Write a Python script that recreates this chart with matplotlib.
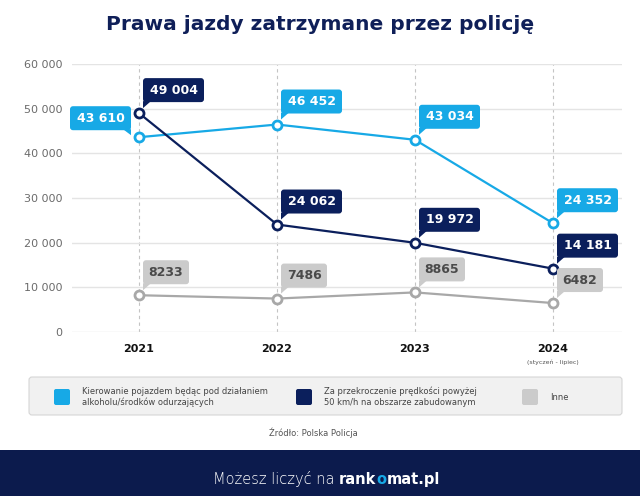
import matplotlib
matplotlib.use("Agg")
import matplotlib.pyplot as plt
from matplotlib.patches import FancyBboxPatch, Polygon, Rectangle
from matplotlib import transforms

plt.rcParams['font.family'] = ['DejaVu Sans']

# dane
lata = ['2021', '2022', '2023', '2024']
alkohol = [43610, 46452, 43034, 24352]
predkosc = [49004, 24062, 19972, 14181]
inne = [8233, 7486, 8865, 6482]
y_ticks = [0, 10000, 20000, 30000, 40000, 50000, 60000]

NIEBIESKI = '#17a9e6'
GRANAT = '#0b1f5c'
SZARY_LINIA = '#a8a8a8'
SZARY_BOX = '#cbcbcb'
TLO_STOPKA = '#0c1b4d'

DPI = 100
fig = plt.figure(figsize=(6.4, 4.96), dpi=DPI)

# warstwa tla w pikselach
bg = fig.add_axes([0, 0, 1, 1])
bg.set_xlim(0, 640)
bg.set_ylim(496, 0)
bg.axis('off')

ax = fig.add_axes([72 / 640, 1 - 332 / 496, 550 / 640, 268 / 496])
ax.patch.set_alpha(0)
x = list(range(len(lata)))
ax.set_xlim(-67 / 138, 3 + 69 / 138)
ax.set_ylim(0, 60000)


def fmt(v):
    if v >= 10000:
        return f"{v:,}".replace(',', ' ')
    return str(v)


ax.set_yticks(y_ticks)
ax.set_yticklabels([fmt(v) for v in y_ticks])
ax.set_xticks(x)
ax.set_xticklabels(lata, fontweight='bold', fontsize=8, color='#111111')
ax.tick_params(axis='y', length=0, pad=7, labelsize=8, labelcolor='#6b6b6b')
ax.tick_params(axis='x', length=0, pad=9)
for s in ax.spines.values():
    s.set_visible(False)
ax.yaxis.grid(True, color='#e4e4e4', lw=1)
ax.xaxis.grid(True, color='#c4c4c4', lw=0.8, ls=(0, (3, 3)))
ax.set_axisbelow(True)

serie = [
    (inne, SZARY_LINIA, SZARY_BOX, '#4a4a4a', ['r', 'r', 'r', 'r']),
    (alkohol, NIEBIESKI, NIEBIESKI, 'white', ['l', 'r', 'r', 'r']),
    (predkosc, GRANAT, GRANAT, 'white', ['r', 'r', 'r', 'r']),
]

for vals, kolor, box_kolor, txt_kolor, strony in serie:
    ax.plot(x, vals, color=kolor, lw=1.6, marker='o', ms=6.5, mfc='white',
            mec=kolor, mew=2, zorder=3, clip_on=False)
    for xi, v, strona in zip(x, vals, strony):
        tekst = fmt(v)
        w = 16 + 7.5 * len(tekst)
        h = 24
        trans = fig.dpi_scale_trans + transforms.ScaledTranslation(xi, v, ax.transData)
        if strona == 'r':
            x0, y0 = 4, 11
            ogon = [(x0, y0 + 1), (x0 + 8, y0 + 1), (x0, y0 - 6)]
        else:
            x0, y0 = -8 - w, 7
            ogon = [(x0 + w, y0 + 1), (x0 + w - 8, y0 + 1), (x0 + w, y0 - 5)]
        box = FancyBboxPatch((x0 / DPI, y0 / DPI), w / DPI, h / DPI,
                             boxstyle="round,pad=0,rounding_size=0.03",
                             transform=trans, fc=box_kolor, ec='none',
                             zorder=5, clip_on=False)
        fig.add_artist(box)
        fig.add_artist(Polygon([(a / DPI, b / DPI) for a, b in ogon], closed=True,
                               transform=trans, fc=box_kolor, ec='none',
                               zorder=5, clip_on=False))
        fig.text((x0 + w / 2) / DPI, (y0 + h / 2) / DPI, tekst, transform=trans,
                 ha='center', va='center', fontsize=9, fontweight='bold',
                 color=txt_kolor, zorder=6)

bg.text(553, 362, '(styczeń - lipiec)', ha='center', va='center', fontsize=4.5,
        color='#555555')

# tytul
bg.text(320, 24, 'Prawa jazdy zatrzymane przez policję', ha='center', va='center',
        fontsize=14.5, fontweight='bold', color='#0f1f58')

# legenda
bg.add_patch(FancyBboxPatch((29, 377), 593, 38, boxstyle="round,pad=0,rounding_size=3",
                            fc='#f1f1f1', ec='#d6d6d6', lw=0.8))
legenda = [
    (NIEBIESKI, 'Kierowanie pojazdem będąc pod działaniem\nalkoholu/środków odurzających', 54),
    (GRANAT, 'Za przekroczenie prędkości powyżej\n50 km/h na obszarze zabudowanym', 296),
    (SZARY_BOX, 'Inne', 522),
]
for kolor, opis, lx in legenda:
    bg.add_patch(FancyBboxPatch((lx, 389), 16, 16, boxstyle="round,pad=0,rounding_size=2",
                                fc=kolor, ec='none'))
    bg.text(lx + 28, 397, opis, ha='left', va='center', fontsize=6, color='#444444',
            linespacing=1.25)

bg.text(313, 433, 'Źródło: Polska Policja', ha='center', va='center', fontsize=6,
        color='#555555')

# stopka
bg.add_patch(Rectangle((0, 450), 640, 46, fc=TLO_STOPKA, ec='none'))
fig.canvas.draw()
czesci = [('Możesz liczyć na ', 'light', 'white'), ('rank', 'bold', 'white'),
          ('o', 'bold', NIEBIESKI), ('mat.pl', 'bold', 'white')]
r = fig.canvas.get_renderer()
pos = 213
for s, waga, kol in czesci:
    t = bg.text(pos, 484, s, ha='left', va='baseline', fontsize=10.5, fontweight=waga,
                color=kol)
    bb = t.get_window_extent(renderer=r)
    pos = bg.transData.inverted().transform((bb.x1, bb.y0))[0]

fig.savefig('out.png', dpi=DPI)
